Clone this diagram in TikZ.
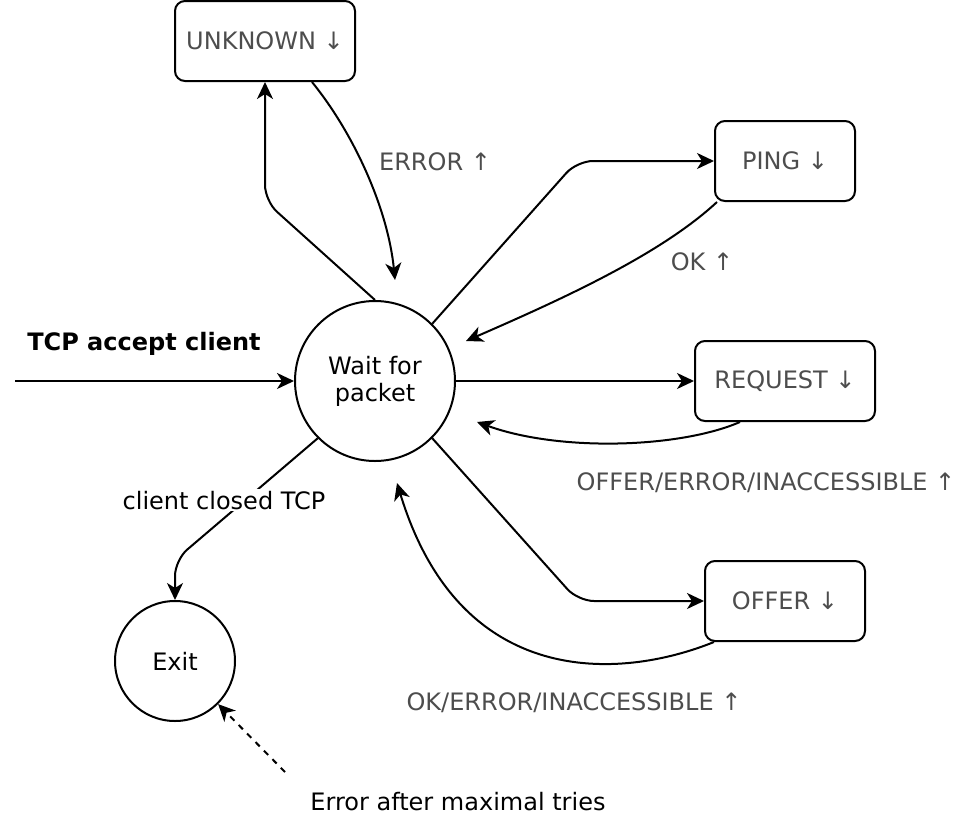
\documentclass[tikz,border=0pt]{standalone}
\usepackage{fontspec}
\setmainfont{DejaVu Sans}
\usepackage{tikz}
\usetikzlibrary{arrows.meta}
\definecolor{labelgray}{HTML}{4D4D4D}

\begin{document}
\begin{tikzpicture}[x=1pt, y=-1pt, line width=2pt,
    >={Stealth[length=17pt, width=16pt, inset=5pt]},
    every node/.style={font=\fontsize{24}{27}\selectfont},
    state/.style={draw, circle, inner sep=0pt, align=center},
    msgbox/.style={draw, rounded corners=10pt, minimum height=80pt, text=labelgray},
    lbl/.style={text=labelgray, anchor=base},
    elbow/.style={rounded corners=16pt}]
    \useasboundingbox (0,0) rectangle (958,822);

    \node[state, minimum size=160pt] (wait) at (375,381) {Wait for\\packet};
    \node[state, minimum size=120pt] (exit) at (175,661) {Exit};
    \node[msgbox, minimum width=180pt] (unknown) at (265,41) {UNKNOWN ↓};
    \node[msgbox, minimum width=140pt] (ping) at (785,161) {PING ↓};
    \node[msgbox, minimum width=180pt] (request) at (785,381) {REQUEST ↓};
    \node[msgbox, minimum width=160pt] (offer) at (785,601) {OFFER ↓};

    \coordinate (start) at (15,381);
    \coordinate (errorend) at (395,280);
    \coordinate (okend) at (466,341);
    \coordinate (replyend) at (477,422);
    \coordinate (offerend) at (397,483);
    \coordinate (tries) at (285,772);

    \draw[->] (start) -- (wait);
    \draw[->, elbow] (wait.north) -- (265,201) -- (unknown.south);
    \draw[->] ([xshift=47pt]unknown.south) .. controls (355,135) and (388,210) .. (errorend);
    \draw[->, elbow] (wait.45) -- (577,161) -- (ping.west);
    \draw[->] ([xshift=-68pt]ping.south) .. controls (660,255) and (560,300) .. (okend);
    \draw[->] (wait) -- (request);
    \draw[->] ([xshift=-45pt]request.south) .. controls (680,448) and (560,452) .. (replyend);
    \draw[->, elbow] (wait.-45) -- (578,601) -- (offer.west);
    \draw[->] ([xshift=-71pt]offer.south) .. controls (620,680) and (460,690) .. (offerend);
    \draw[->, elbow] (wait.225) -- (175,560) -- (exit.north);
    \draw[->, dash pattern=on 6pt off 6pt] (tries) -- (exit.-45);

    \node[font=\fontsize{24}{27}\selectfont\bfseries, anchor=base] (accept) at (144,350) {TCP accept client};
    \node[fill=white, inner sep=2pt, anchor=base] (closed) at (224,509) {client closed TCP};
    \node[lbl] (errorlbl) at (435,170) {ERROR ↑};
    \node[lbl] (oklbl) at (702,270) {OK ↑};
    \node[lbl] (replylbl) at (766,490) {OFFER/ERROR/INACCESSIBLE ↑};
    \node[lbl] (offerlbl) at (574,710) {OK/ERROR/INACCESSIBLE ↑};
    \node[anchor=base] (trieslbl) at (458,810) {Error after maximal tries};
\end{tikzpicture}
\end{document}
